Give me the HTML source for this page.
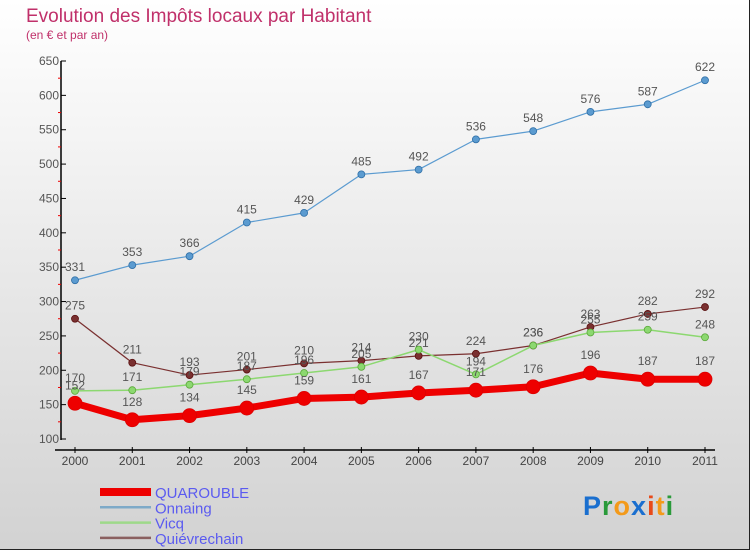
<!DOCTYPE html>
<html><head><meta charset="utf-8"><style>
body{margin:0;}
#c{width:750px;height:550px;position:relative;box-sizing:border-box;border:1px solid #222;border-top:none;border-left:none;background:linear-gradient(#ffffff,#d2d2d2);font-family:"Liberation Sans",sans-serif;overflow:hidden}
svg text{font-family:"Liberation Sans",sans-serif}
</style></head><body>
<div id="c">
<svg width="750" height="550" id="s">
<text x="26" y="22" font-size="19" fill="#c0306a">Evolution des Impôts locaux par Habitant</text>
<text x="26" y="39" font-size="12" fill="#c0306a">(en € et par an)</text>
<g id="axes"></g><g id="series"></g><g id="legend"></g>
<text x="583" y="515" font-size="27" font-weight="bold" letter-spacing="1"><tspan fill="#1a6fcf">P</tspan><tspan fill="#2a9a3a">r</tspan><tspan fill="#f39a1a">o</tspan><tspan fill="#1a6fcf">x</tspan><tspan fill="#e84a1a">i</tspan><tspan fill="#f39a1a">t</tspan><tspan fill="#2a9a3a">i</tspan></text>
</svg></div>
<script>
const years=[2000,2001,2002,2003,2004,2005,2006,2007,2008,2009,2010,2011];
const yTicks=[100,150,200,250,300,350,400,450,500,550,600,650];
const quarouble=[152,128,134,145,159,161,167,171,176,196,187,187];
const onnaing=[331,353,366,415,429,485,492,536,548,576,587,622];
const vicq=[170,171,179,187,196,205,230,194,236,255,259,248];
const quievrechain=[275,211,193,201,210,214,221,224,236,263,282,292];
const NS="http://www.w3.org/2000/svg";
const xs=i=>75+i*(630/11);
const ys=v=>61+(650-v)*(378/550);
function mk(t,a,p){const e=document.createElementNS(NS,t);for(const k in a)e.setAttribute(k,a[k]);p.appendChild(e);return e;}
const ax=document.getElementById('axes');
let l=mk('line',{x1:61,y1:61,x2:61,y2:440,stroke:'#000','stroke-width':1.5},ax);


l=mk('line',{x1:55,y1:450,x2:715,y2:450,stroke:'#000','stroke-width':1.5},ax);


yTicks.forEach((v,i)=>{
 mk('line',{x1:61,y1:ys(v),x2:66,y2:ys(v),stroke:'#000'},ax);
 if(i<yTicks.length-1) mk('line',{x1:58,y1:ys(v+25),x2:61,y2:ys(v+25),stroke:'#e00'},ax);
 const t=mk('text',{x:59,y:ys(v)+4,'text-anchor':'end','font-size':12,fill:'#555'},ax);
 t.textContent=v;
 
 
});
years.forEach((y,i)=>{
 mk('line',{x1:xs(i),y1:447,x2:xs(i),y2:453,stroke:'#000'},ax);
 const t=mk('text',{x:xs(i),y:465,'text-anchor':'middle','font-size':12,fill:'#444'},ax);
 t.textContent=y;
 
 
});
const series=[
 {name:'onnaing',data:onnaing,color:'#5b9bd0',w:1.2,r:3.5,stroke:'#2e6ea6'},
 {name:'quievrechain',data:quievrechain,color:'#7a3030',w:1.2,r:3.5,stroke:'#5a1010'},
 {name:'vicq',data:vicq,color:'#8cd870',w:1.5,r:3.5,stroke:'#5aa83a'},
 {name:'quarouble',data:quarouble,color:'#ee0000',w:7,r:7,stroke:'#dd0000'}
];
const sg=document.getElementById('series');
series.forEach(s=>{
 const g=mk('g',{},sg);
 
 
 const p=mk('polyline',{points:s.data.map((v,i)=>xs(i)+','+ys(v)).join(' '),fill:'none',stroke:s.color,'stroke-width':s.w,'stroke-linejoin':'round'},g);
 
 
 s.data.forEach((v,i)=>{
  const c=mk('circle',{cx:xs(i),cy:ys(v),r:s.r,fill:s.color,stroke:s.stroke,'stroke-width':0.8},g);
  
  
  const t=mk('text',{x:xs(i),y:ys(v)-(s.name==='quarouble'?14:9),'text-anchor':'middle','font-size':12,fill:'#555'},g);
  t.textContent=v;
  
  
 });
});
const lg=document.getElementById('legend');
const leg=[['QUAROUBLE','#ee0000',8],['Onnaing','#7eaac8',2.5],['Vicq','#9ed98a',2.5],['Quiévrechain','#8a6060',2.5]];
leg.forEach((e,i)=>{
 const y=492+i*15.3;
 const g=mk('g',{},lg);
 
 
 mk('line',{x1:100,y1:y,x2:151,y2:y,stroke:e[1],'stroke-width':e[2]},g);
 const t=mk('text',{x:155,y:y+6,'font-size':15,fill:'#5b5bf0'},g);
 t.textContent=e[0];
});
</script>
</body></html>
